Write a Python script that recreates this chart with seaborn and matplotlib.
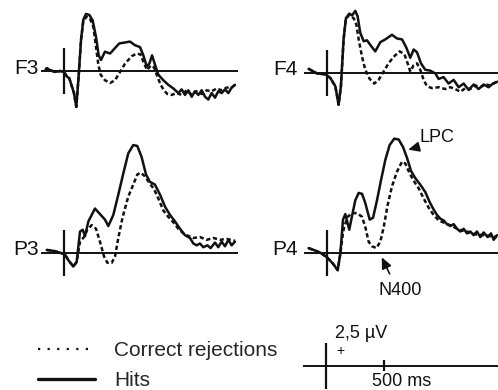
# ERP: Hits vs Correct rejections (F3, F4, P3, P4)
import numpy as np
import pandas as pd
import matplotlib
matplotlib.use("Agg")
import matplotlib.pyplot as plt
from matplotlib.lines import Line2D
import seaborn as sns

sns.set_theme(style="white")
plt.rcParams["font.family"] = ["Liberation Sans", "DejaVu Sans"]

# Datos (tiempo en ms, amplitud en µV)
f3_hits_t = [-160, -149, -121, -78, -34, 0, 25, 46, 86, 106, 126, 147, 167, 190, 218, 247, 276, 299, 319, 353,
             397, 440, 477, 526, 569, 612, 655, 684, 713, 736, 759, 784, 813, 856, 899, 943, 986, 1014, 1043, 1072,
             1101, 1129, 1158, 1187, 1216, 1244, 1273, 1302, 1330, 1359, 1388, 1417, 1445, 1474]
f3_hits_uv = [0.1, 0.3, 0.1, -0.1, 0.0, -0.1, -0.6, -0.8, -2.4, -3.9, -0.6, 3.4, 5.6, 6.2, 6.1, 5.5, 3.7, 1.7, 1.2, 2.1,
              1.9, 2.5, 3.0, 3.1, 3.2, 2.8, 2.6, 1.7, 0.5, 0.8, 1.7, 0.7, -0.4, -1.0, -1.5, -1.9, -2.4, -2.0, -2.6, -2.1,
              -2.8, -2.2, -2.6, -2.1, -2.8, -3.1, -2.4, -2.9, -2.2, -2.4, -2.0, -2.4, -1.8, -1.5]
f3_cr_t = [-160, -149, -121, -78, -34, 0, 25, 46, 86, 106, 126, 147, 167, 195, 224, 253, 276, 296, 316, 353,
           397, 440, 483, 526, 583, 626, 661, 690, 718, 747, 776, 805, 833, 862, 891, 928, 971, 1014, 1057, 1101,
           1144, 1187, 1230, 1273, 1316, 1359, 1402, 1445, 1474]
f3_cr_uv = [0.1, 0.3, 0.1, -0.1, 0.0, -0.1, -0.6, -0.8, -2.4, -3.9, -0.6, 3.4, 5.5, 5.9, 5.7, 4.8, 2.6, 0.7, -0.4, -1.0,
            -1.3, -1.0, -0.1, 0.8, 1.6, 1.9, 1.8, 0.8, 0.1, 0.6, 0.4, -0.6, -1.5, -2.1, -2.5, -2.6, -2.4, -2.6, -2.1, -2.6,
            -2.2, -2.5, -2.1, -2.2, -1.9, -2.1, -1.8, -1.8, -1.5]

f4_hits_t = [-159, -130, -87, -14, 29, 72, 100, 120, 143, 163, 192, 216, 244, 264, 287, 316, 345, 379, 416, 460,
             503, 560, 603, 647, 684, 718, 747, 776, 810, 847, 890, 934, 962, 1005, 1048, 1092, 1135, 1178, 1221, 1264,
             1307, 1350, 1393, 1431, 1471]
f4_hits_uv = [0.4, 0.2, -0.1, -0.2, -0.6, -1.5, -3.5, -1.5, 3.6, 5.9, 6.4, 6.2, 6.7, 6.1, 4.3, 3.4, 3.5, 2.9, 2.3, 3.3,
              3.6, 4.1, 3.7, 3.6, 2.7, 1.6, 2.5, 2.2, 1.0, 0.3, 0.2, -0.1, -0.7, -0.5, -1.2, -0.8, -1.6, -1.2, -1.9, -1.3,
              -1.8, -1.3, -1.6, -1.2, -1.0]
f4_cr_t = [-159, -130, -87, -14, 29, 72, 100, 120, 143, 163, 192, 230, 253, 273, 302, 330, 368, 408, 445, 488,
           531, 574, 626, 667, 695, 718, 747, 776, 804, 833, 862, 905, 962, 1020, 1063, 1106, 1150, 1192, 1235, 1279,
           1322, 1365, 1408, 1465]
f4_cr_uv = [0.4, 0.2, -0.1, -0.2, -0.6, -1.5, -3.5, -1.5, 3.6, 5.9, 6.2, 5.9, 5.2, 3.6, 1.7, 0.3, -0.7, -1.2, -0.8, 0.1,
            1.0, 1.7, 2.3, 2.0, 1.0, 0.1, 0.8, 1.0, 0.3, -0.8, -1.5, -1.7, -1.6, -1.8, -1.6, -1.8, -2.1, -1.7, -1.8, -1.4,
            -1.6, -1.3, -1.4, -1.0]

p3_hits_t = [-149, -92, -34, 9, 37, 80, 109, 138, 161, 181, 210, 267, 310, 353, 382, 425, 468, 511, 554, 597,
             632, 669, 707, 741, 784, 828, 871, 914, 957, 1000, 1043, 1086, 1115, 1144, 1172, 1201, 1236, 1264, 1302, 1330,
             1359, 1388, 1417, 1445, 1474]
p3_hits_uv = [0.3, 0.2, 0.0, -0.2, -0.8, -1.5, -1.0, 2.3, 2.5, 1.8, 3.4, 4.8, 4.2, 3.6, 2.9, 4.1, 6.3, 8.6, 10.8, 11.7,
              11.6, 10.4, 8.5, 7.7, 7.4, 6.3, 5.0, 4.1, 3.4, 2.6, 1.9, 1.6, 1.0, 0.8, 1.0, 0.6, 0.8, 0.5, 1.1, 0.6,
              1.2, 0.7, 1.4, 0.8, 1.2]
p3_cr_t = [-149, -92, -34, 9, 37, 80, 109, 138, 152, 172, 201, 239, 276, 310, 345, 374, 411, 440, 468, 506,
           554, 597, 632, 661, 698, 741, 776, 813, 856, 899, 943, 986, 1029, 1057, 1115, 1172, 1230, 1288, 1345, 1402,
           1474]
p3_cr_uv = [0.3, 0.2, 0.0, -0.2, -0.8, -1.5, -1.0, 1.2, 1.4, 1.7, 2.5, 3.0, 2.6, 1.2, -0.4, -1.1, -1.1, -0.4, 1.6, 3.9,
            6.1, 7.4, 8.5, 8.7, 8.3, 7.5, 6.9, 5.9, 4.6, 3.9, 3.3, 2.6, 2.1, 1.9, 1.6, 1.7, 1.4, 1.6, 1.4, 1.5,
            1.3]

p4_hits_t = [-159, -115, -58, 0, 52, 92, 115, 138, 158, 178, 192, 216, 244, 273, 302, 330, 368, 397, 431, 466,
             503, 540, 580, 618, 655, 690, 724, 761, 804, 847, 885, 919, 948, 977, 1006, 1034, 1063, 1092, 1121, 1149,
             1178, 1207, 1236, 1264, 1293, 1322, 1350, 1385, 1414, 1437, 1465]
p4_hits_uv = [0.5, 0.3, 0.0, -0.5, -1.2, -1.9, -0.1, 3.6, 4.2, 3.2, 2.5, 4.0, 5.7, 6.5, 6.4, 5.4, 3.6, 3.8, 5.7, 7.9,
              10.1, 11.7, 12.4, 12.3, 11.5, 10.3, 8.9, 8.1, 7.4, 6.6, 5.5, 4.7, 4.1, 3.7, 3.5, 3.1, 2.9, 3.1, 2.6, 2.3,
              2.6, 2.1, 2.3, 1.9, 2.3, 1.7, 2.2, 1.7, 2.1, 1.4, 1.9]
p4_cr_t = [-159, -115, -58, 0, 52, 92, 115, 138, 149, 178, 216, 259, 302, 330, 359, 388, 425, 460, 489, 523,
           560, 603, 647, 675, 713, 753, 790, 833, 876, 914, 963, 1020, 1078, 1135, 1207, 1279, 1350, 1408, 1465]
p4_cr_uv = [0.5, 0.3, 0.0, -0.5, -1.2, -1.9, -0.1, 2.2, 2.8, 3.9, 4.3, 4.3, 3.9, 2.8, 1.2, 0.7, 0.5, 1.2, 2.8, 5.2,
            7.2, 8.8, 9.9, 9.7, 8.6, 7.7, 7.0, 5.9, 4.9, 4.2, 3.5, 3.2, 2.9, 2.5, 2.3, 2.0, 1.9, 1.8, 1.7]

conditions = ["Correct rejections", "Hits"]
SCALE_UV = 2.5   # barra de escala vertical
SCALE_MS = 500   # marca de 500 ms


def make_df(t_hits, uv_hits, t_cr, uv_cr):
    return pd.concat([
        pd.DataFrame({"time": t_cr, "uv": uv_cr, "cond": conditions[0]}),
        pd.DataFrame({"time": t_hits, "uv": uv_hits, "cond": conditions[1]}),
    ], ignore_index=True)


panels = {
    "F3": make_df(f3_hits_t, f3_hits_uv, f3_cr_t, f3_cr_uv),
    "F4": make_df(f4_hits_t, f4_hits_uv, f4_cr_t, f4_cr_uv),
    "P3": make_df(p3_hits_t, p3_hits_uv, p3_cr_t, p3_cr_uv),
    "P4": make_df(p4_hits_t, p4_hits_uv, p4_cr_t, p4_cr_uv),
}

# Geometría (píxeles de la figura)
W, H = 498, 390
PX_MS = 0.116
PX_UV = 9.2
XLIM = (-200, 1500)
YLIM = (-5, 13)
INK = "#111111"
DOTS = (0, (1.7, 1.1))
ARROW = dict(arrowstyle="-|>,head_length=0.55,head_width=0.25", color=INK, lw=1.2,
             shrinkA=0, shrinkB=0)


def add_panel(fig, onset_x, base_y):
    left = onset_x + XLIM[0] * PX_MS
    width = (XLIM[1] - XLIM[0]) * PX_MS
    bottom = base_y - YLIM[0] * PX_UV
    height = (YLIM[1] - YLIM[0]) * PX_UV
    ax = fig.add_axes([left / W, (H - bottom) / H, width / W, height / H])
    ax.set_xlim(XLIM)
    ax.set_ylim(YLIM)
    ax.axis("off")
    ax.patch.set_alpha(0)
    return ax


fig = plt.figure(figsize=(W / 100, H / 100), dpi=100)
fig.patch.set_facecolor("white")

layout = {  # nombre: (x del inicio, y de la línea base, x de la etiqueta)
    "F3": (64, 71, -215),
    "F4": (327, 72.5, -250),
    "P3": (64, 252.7, -215),
    "P4": (327, 252.7, -250),
}

axes = {}
for name, (ox, by, lx) in layout.items():
    ax = add_panel(fig, ox, by)
    df = panels[name]
    ax.axhline(0, color=INK, lw=1.4)
    ax.vlines(0, -SCALE_UV, SCALE_UV, color=INK, lw=1.6)
    sns.lineplot(data=df[df.cond == conditions[0]], x="time", y="uv", ax=ax, color=INK,
                 lw=1.8, linestyle=DOTS, estimator=None, sort=False, legend=False)
    sns.lineplot(data=df[df.cond == conditions[1]], x="time", y="uv", ax=ax, color=INK,
                 lw=1.8, estimator=None, sort=False, legend=False)
    ax.text(lx, -0.3, name, ha="right", va="baseline", fontsize=15, color=INK, clip_on=False)
    axes[name] = ax

# Anotaciones LPC / N400
ax = axes["P4"]
ax.text(800, 12.0, "LPC", ha="left", va="baseline", fontsize=13, color=INK)
ax.annotate("", xy=(700, 11.2), xytext=(790, 11.5), arrowprops=ARROW)
ax.text(440, -4.6, "N400", ha="left", va="baseline", fontsize=13, color=INK)
ax.annotate("", xy=(472, -0.5), xytext=(540, -2.3), arrowprops=ARROW)

# Barra de escala
axs = add_panel(fig, 326, 365.5)
axs.axhline(0, color=INK, lw=1.4)
axs.vlines(0, -SCALE_UV, SCALE_UV, color=INK, lw=1.6)
axs.vlines(SCALE_MS, -0.65, 0.65, color=INK, lw=1.6)
axs.text(80, 3.0, f"{SCALE_UV:.1f}".replace(".", ",") + " µV", ha="left", va="baseline", fontsize=13, color=INK)
axs.text(128, 1.6, "+", ha="center", va="center", fontsize=10, color=INK)
axs.text(395, -2.2, f"{SCALE_MS} ms", ha="left", va="baseline", fontsize=13, color=INK, clip_on=False)

# Leyenda
handles = [Line2D([], [], color=INK, lw=1.6, linestyle=(0, (1, 3.3))),
           Line2D([], [], color=INK, lw=2.4)]
fig.legend(handles, conditions, loc="upper left", bbox_to_anchor=(38 / W, (H - 341) / H),
           frameon=False, fontsize=15, handlelength=2.75, handletextpad=0.9,
           labelspacing=0.55, borderpad=0, borderaxespad=0)

plt.savefig("out.png", dpi=100, facecolor="white")
